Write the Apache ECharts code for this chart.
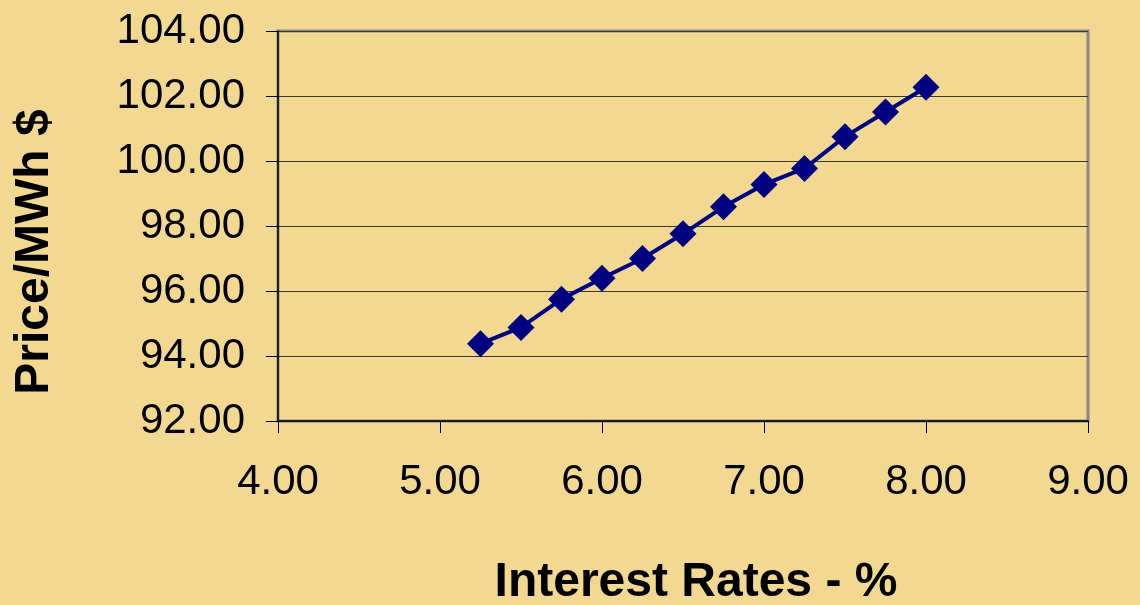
<!DOCTYPE html>
<html>
<head>
<meta charset="utf-8">
<script src="https://cdn.jsdelivr.net/npm/echarts@6/dist/echarts.min.js"></script>
<style>
  html, body { margin: 0; padding: 0; background: #F3D892; }
  #chart { width: 1140px; height: 605px; }
</style>
</head>
<body>
<div id="chart"></div>
<script>
// Interest rate (%) vs. resulting price per MWh
const interestRates = [5.25, 5.5, 5.75, 6.0, 6.25, 6.5, 6.75, 7.0, 7.25, 7.5, 7.75, 8.0];
const pricePerMWh = [94.38, 94.88, 95.75, 96.39, 97.00, 97.76, 98.59, 99.28, 99.77, 100.75, 101.51, 102.27];
const xTitle = 'Interest Rates - %';
const yTitle = 'Price/MWh $';

const chart = echarts.init(document.getElementById('chart'), null, { renderer: 'canvas' });

const points = interestRates.map((x, i) => [x, pricePerMWh[i]]);
const tickFont = { fontFamily: 'Liberation Sans, Arial, sans-serif', fontSize: 42, color: '#000' };

chart.setOption({
  backgroundColor: '#F3D892',
  animation: false,
  grid: {
    left: 278, top: 31, width: 810, height: 390,
    show: true, backgroundColor: 'transparent',
    borderColor: '#888888', borderWidth: 3
  },
  xAxis: {
    type: 'value', min: 4, max: 9, interval: 1,
    axisLine: { show: true, lineStyle: { color: '#000', width: 1.5 } },
    axisTick: { show: true, inside: false, length: 12, lineStyle: { color: '#000', width: 1 } },
    splitLine: { show: false },
    axisLabel: Object.assign({ margin: 40, formatter: v => v.toFixed(2) }, tickFont)
  },
  yAxis: {
    type: 'value', min: 92, max: 104, interval: 2,
    axisLine: { show: true, lineStyle: { color: '#000', width: 1.5 } },
    axisTick: { show: true, inside: false, length: 12, lineStyle: { color: '#000', width: 1 } },
    splitLine: { show: true, lineStyle: { color: '#3a3a2a', width: 1 } },
    axisLabel: Object.assign({ margin: 33, formatter: v => v.toFixed(2) }, tickFont)
  },
  series: [{
    type: 'line',
    data: points,
    symbol: 'diamond',
    symbolSize: 27,
    lineStyle: { color: '#000080', width: 4 },
    itemStyle: { color: '#000080' },
    z: 5
  }],
  graphic: [
    {
      type: 'text',
      x: 696, y: 583,
      style: {
        text: xTitle,
        font: 'bold 48px "Liberation Sans", Arial, sans-serif',
        fill: '#000',
        align: 'center', verticalAlign: 'middle'
      }
    },
    {
      type: 'text',
      x: 35, y: 252,
      rotation: Math.PI / 2,
      style: {
        text: yTitle,
        font: 'bold 48px "Liberation Sans", Arial, sans-serif',
        fill: '#000',
        align: 'center', verticalAlign: 'middle'
      }
    }
  ]
});
</script>
</body>
</html>
